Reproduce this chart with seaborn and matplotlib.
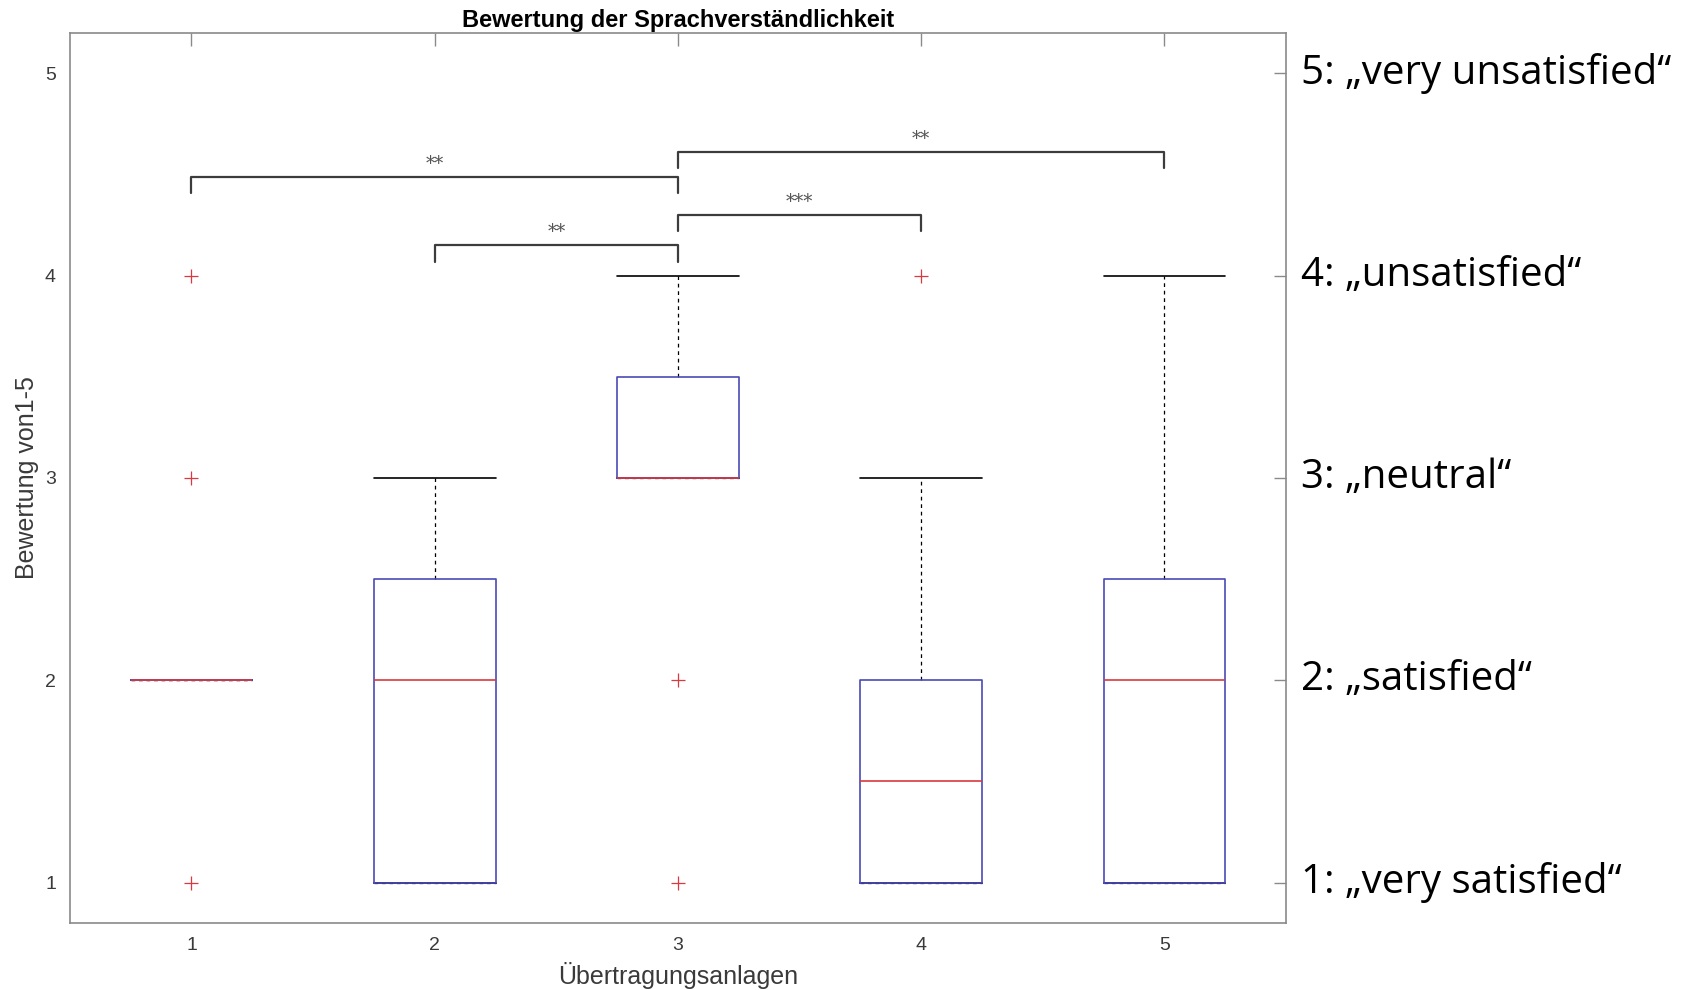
import pandas as pd
import seaborn as sns
import matplotlib.pyplot as plt

title = "Bewertung der Sprachverständlichkeit"
x_label = "Übertragungsanlagen"
y_label = "Bewertung von1-5"

# Bewertungen je Übertragungsanlage (so gewählt, dass Quartile/Ausreißer passen)
anlage1 = [1, 2, 2, 2, 2, 2, 2, 2, 3, 4]
anlage2 = [1, 1, 1, 2, 2, 3, 3]
anlage3 = [1, 2, 3, 3, 3, 3, 3, 3, 4, 4, 4]
anlage4 = [1, 1, 1, 1, 1, 2, 2, 2, 3, 4]
anlage5 = [1, 1, 1, 2, 2, 3, 4]
anlagen = [1, 2, 3, 4, 5]

scale_values = [1, 2, 3, 4, 5]
scale_labels = ["1: „very satisfied“", "2: „satisfied“", "3: „neutral“",
                "4: „unsatisfied“", "5: „very unsatisfied“"]

# Signifikanzklammern
sig_pairs = [(1, 3), (2, 3), (3, 4), (3, 5)]
sig_heights = [4.49, 4.15, 4.30, 4.61]
sig_labels = ["**", "**", "***", "**"]

box_blue = "#4a4ab8"
median_red = "#d9393f"
axis_gray = "#8a8a8a"
text_gray = "#3a3a3a"

sns.set_style("white")
plt.rcParams["font.family"] = ["Liberation Sans", "DejaVu Sans"]

groups = [anlage1, anlage2, anlage3, anlage4, anlage5]
df = pd.DataFrame({
    "anlage": [a for a, g in zip(anlagen, groups) for _ in g],
    "wert": [v for g in groups for v in g],
})

fig = plt.figure(figsize=(17.04, 9.9), dpi=100)
ax = fig.add_axes([0.041, 0.0677, 0.7137, 0.899])

sns.boxplot(data=df, x="anlage", y="wert", native_scale=True, width=0.5,
            fill=False, whis=1.5, linewidth=1.2, ax=ax,
            boxprops=dict(color=box_blue, zorder=4),
            medianprops=dict(color=median_red, zorder=5),
            whiskerprops=dict(color="black", linestyle=(0, (3, 3)),
                              linewidth=0.9, zorder=2),
            capprops=dict(color="black", linewidth=1.2, zorder=2),
            flierprops=dict(marker="+", markeredgecolor=median_red,
                            markerfacecolor=median_red, markersize=10,
                            markeredgewidth=0.9))

# MATLAB-Stil: Caps so breit wie die Box
for line in ax.lines:
    xd = list(line.get_xdata())
    yd = list(line.get_ydata())
    if len(xd) == 2 and yd[0] == yd[1] and line.get_color() == "black":
        c = (xd[0] + xd[1]) / 2
        line.set_xdata([c - 0.25, c + 0.25])

# Signifikanzklammern
drop = 0.08
for (a, b), h, lab in zip(sig_pairs, sig_heights, sig_labels):
    ax.plot([a, a, b, b], [h - drop, h, h, h - drop], color="#3c3c3c", lw=1.6)
    ax.text((a + b) / 2, h + 0.02, lab, ha="center", va="bottom",
            fontsize=13, color="#555555", family="DejaVu Serif")

ax.set_xlim(0.5, 5.5)
ax.set_ylim(0.8, 5.2)
ax.set_xticks(anlagen)
ax.set_yticks(scale_values)
ax.tick_params(direction="in", top=True, right=True, length=9, width=1,
               color=axis_gray, labelsize=14, labelcolor=text_gray, pad=10)
for s in ax.spines.values():
    s.set_color(axis_gray)
    s.set_linewidth(1.2)

ax.set_title(title, fontsize=17, fontweight="bold", color="black", pad=4)
ax.set_xlabel(x_label, fontsize=18, color=text_gray, labelpad=6)
ax.set_ylabel(y_label, fontsize=18, color=text_gray, labelpad=4)

for v, lab in zip(scale_values, scale_labels):
    ax.text(1.012, v, lab, transform=ax.get_yaxis_transform(), ha="left",
            va="center", fontsize=29, color="black", family="Open Sans")

fig.savefig("out.png", dpi=100)
